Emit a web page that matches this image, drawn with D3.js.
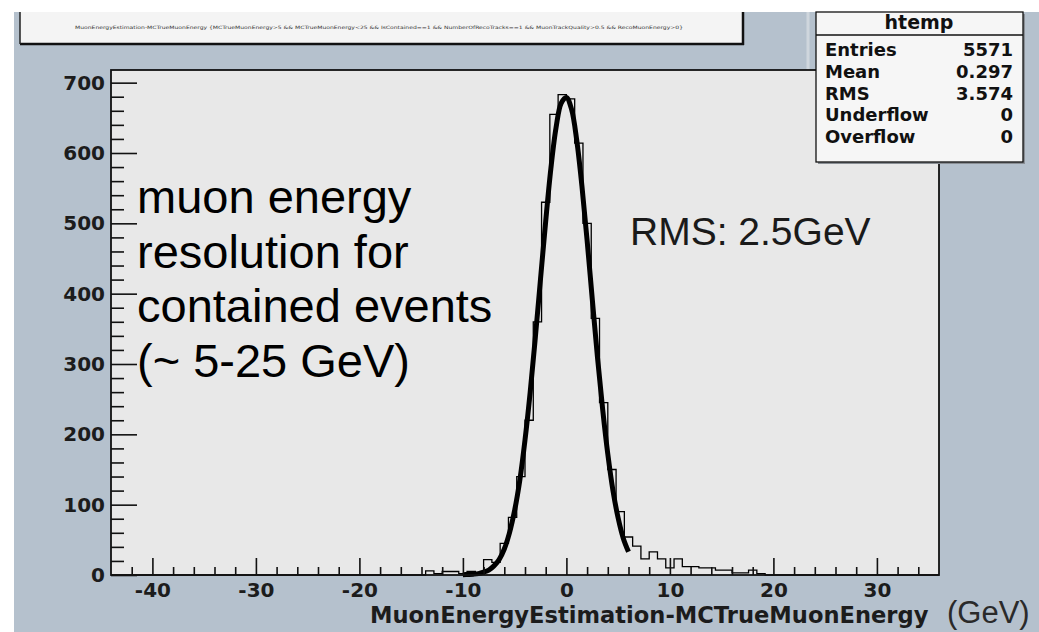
<!DOCTYPE html>
<html><head><meta charset="utf-8">
<script src="https://cdn.jsdelivr.net/npm/d3@7"></script>
<style>body{margin:0;background:#fff;} svg{display:block}</style>
</head><body><svg id="c" width="1039" height="632"></svg>
<script>
// ---------- data ----------
const binLow = -44;
const binWidth = 0.8;
const counts = [
  0,0,0,0,0,0,0,0,0,0, 0,0,0,0,0,0,0,0,0,0,
  0,0,0,0,0,0,0,0,0,0, 0,0,0,0,0,0,0,0,6,2,
  5,5,2,5,3,22,18,45,82,140, 220,360,530,655,683,677,614,500,365,245,
  150,90,54,41,23,33,23,10,23,12, 12,10,10,7,7,3,3,7,2,0,
  0,0,0,0,0,0,0,0,0,0, 0,0,0,0,0,0,0,0,0,0
];
const fitX = [-10,-9.5,-9,-8.5,-8,-7.5,-7,-6.5,-6,-5.5,-5,-4.5,-4,-3.5,-3,-2.5,-2,-1.5,-1,-0.5,0,0.5,1,1.5,2,2.5,3,3.5,4,4.5,5,5.5,6];
const fitY = [0.5,0.8,1.2,2,4,7,13,22,37,60,92,135,192,260,338,421,503,578,636,671,679,662,618,553,476,392,310,236,172,120,81,52,33];
const xTicks = [-40,-30,-20,-10,0,10,20,30];
const yTicks = [0,100,200,300,400,500,600,700];
const statsLabels = ["Entries","Mean","RMS","Underflow","Overflow"];
const statsValues = ["5571","0.297","3.574","0","0"];
const histName = "htemp";
const xTitle = "MuonEnergyEstimation-MCTrueMuonEnergy";
const unitLabel = "(GeV)";
const noteLines = ["muon energy","resolution for","contained events","(~ 5-25 GeV)"];
const rmsNote = "RMS: 2.5GeV";
const titleText = "MuonEnergyEstimation-MCTrueMuonEnergy {MCTrueMuonEnergy>5 && MCTrueMuonEnergy<25 && IsContained==1 && NumberOfRecoTracks==1 && MuonTrackQuality>0.5 && RecoMuonEnergy>0}";

// ---------- drawing ----------
const svg = d3.select("#c");
const W = 1039, H = 632;
svg.append("rect").attr("width", W).attr("height", H).attr("fill", "#ffffff");
svg.append("rect").attr("x", 14).attr("y", 12).attr("width", W - 14).attr("height", H - 12).attr("fill", "#b5c1cd");
svg.append("line").attr("x1", 808).attr("x2", 808).attr("y1", 12).attr("y2", 70).attr("stroke", "#cfd6dd").attr("stroke-width", 3);

// title pave
svg.append("rect").attr("x", 20).attr("y", 12).attr("width", 722).attr("height", 31).attr("fill", "#f4f4f4");
svg.append("line").attr("x1", 20).attr("x2", 744).attr("y1", 44).attr("y2", 44).attr("stroke", "#111").attr("stroke-width", 2.5);
svg.append("line").attr("x1", 743).attr("x2", 743).attr("y1", 12).attr("y2", 45).attr("stroke", "#111").attr("stroke-width", 2.5);
svg.append("line").attr("x1", 20).attr("x2", 20).attr("y1", 12).attr("y2", 44).attr("stroke", "#222").attr("stroke-width", 1.5);
svg.append("text").attr("x", 75).attr("y", 29).attr("font-size", 4.5).attr("fill", "#333")
  .attr("font-family", "DejaVu Sans").attr("textLength", 608).attr("lengthAdjust", "spacingAndGlyphs").text(titleText);

const x = d3.scaleLinear().domain([-44, 36]).range([111, 939]);
const y = d3.scaleLinear().domain([0, 718]).range([575, 70]);

// frame
svg.append("rect").attr("x", x(-44)).attr("y", y(718)).attr("width", x(36) - x(-44)).attr("height", y(0) - y(718)).attr("fill", "#e8e8e8");

// histogram step outline
const pts = [];
counts.forEach((c, i) => {
  const x0 = binLow + i * binWidth, x1 = x0 + binWidth;
  pts.push([x0, c]); pts.push([x1, c]);
});
svg.append("path").datum(pts)
  .attr("d", d3.line().x(d => x(d[0])).y(d => y(d[1])))
  .attr("fill", "none").attr("stroke", "#000").attr("stroke-width", 1.3);

// fit curve
const fitPts = fitX.map((v, i) => [v, fitY[i]]);
svg.append("path").datum(fitPts)
  .attr("d", d3.line().x(d => x(d[0])).y(d => y(d[1])).curve(d3.curveCatmullRom))
  .attr("fill", "none").attr("stroke", "#000").attr("stroke-width", 5).attr("stroke-linejoin", "round");

// frame border
svg.append("rect").attr("x", x(-44)).attr("y", y(718)).attr("width", x(36) - x(-44)).attr("height", y(0) - y(718))
  .attr("fill", "none").attr("stroke", "#111").attr("stroke-width", 1.8);

// axes
const fmt = d => String(d);
const yMinor = d3.range(0, 718, 20).filter(v => v % 100 !== 0);
const xMinor = d3.range(-42, 36, 2).filter(v => v % 10 !== 0);
const gy = svg.append("g").attr("transform", `translate(${x(-44)},0)`);
gy.call(d3.axisLeft(y).tickValues(yMinor).tickSize(-13).tickFormat(""));
gy.select(".domain").remove();
const gy2 = svg.append("g").attr("transform", `translate(${x(-44)},0)`);
gy2.call(d3.axisLeft(y).tickValues(yTicks).tickSize(-26).tickPadding(6).tickFormat(fmt));
gy2.select(".domain").remove();
const gx = svg.append("g").attr("transform", `translate(0,${y(0)})`);
gx.call(d3.axisBottom(x).tickValues(xMinor).tickSize(-8).tickFormat(""));
gx.select(".domain").remove();
const gx2 = svg.append("g").attr("transform", `translate(0,${y(0)})`);
gx2.call(d3.axisBottom(x).tickValues(xTicks).tickSize(-17).tickPadding(8).tickFormat(fmt));
gx2.select(".domain").remove();
svg.selectAll(".tick line").attr("stroke", "#111").attr("stroke-width", 1.6);
svg.selectAll(".tick text").attr("font-family", "DejaVu Sans").attr("font-weight", "bold")
  .attr("font-size", 20).attr("fill", "#1c1c1c");

// axis title
svg.append("text").attr("x", 370).attr("y", 623).attr("font-family", "DejaVu Sans").attr("font-weight", "bold")
  .attr("font-size", 22.6).attr("fill", "#1c1c1c").text(xTitle);
svg.append("text").attr("x", 947).attr("y", 623).attr("font-family", "Liberation Sans, Arial").attr("font-size", 31)
  .attr("fill", "#2a2a2a").text(unitLabel);

// annotations
noteLines.forEach((t, i) => {
  svg.append("text").attr("x", 137).attr("y", 213 + i * 54.5).attr("font-family", "Liberation Sans, Arial")
    .attr("font-size", 47).attr("fill", "#000").text(t);
});
svg.append("text").attr("x", 630).attr("y", 245).attr("font-family", "Liberation Sans, Arial")
  .attr("font-size", 39).attr("fill", "#1a1a1a").text(rmsNote);

// stats box
const sb = svg.append("g");
sb.append("rect").attr("x", 818).attr("y", 14).attr("width", 207).attr("height", 150).attr("fill", "#8a8f95");
sb.append("rect").attr("x", 816).attr("y", 12).attr("width", 207).attr("height", 150).attr("fill", "#f6f6f6")
  .attr("stroke", "#111").attr("stroke-width", 1.3);
sb.append("line").attr("x1", 816).attr("x2", 1023).attr("y1", 35).attr("y2", 35).attr("stroke", "#111").attr("stroke-width", 1.3);
sb.append("text").attr("x", 919).attr("y", 28.5).attr("text-anchor", "middle").attr("font-family", "DejaVu Sans")
  .attr("font-weight", "bold").attr("font-size", 19).attr("fill", "#111").text(histName);
statsLabels.forEach((t, i) => {
  const yy = 56 + i * 21.8;
  sb.append("text").attr("x", 825).attr("y", yy).attr("font-family", "DejaVu Sans").attr("font-weight", "bold")
    .attr("font-size", 18).attr("fill", "#111").text(t);
  sb.append("text").attr("x", 1013).attr("y", yy).attr("text-anchor", "end").attr("font-family", "DejaVu Sans")
    .attr("font-weight", "bold").attr("font-size", 18).attr("fill", "#111").text(statsValues[i]);
});
</script></body></html>
